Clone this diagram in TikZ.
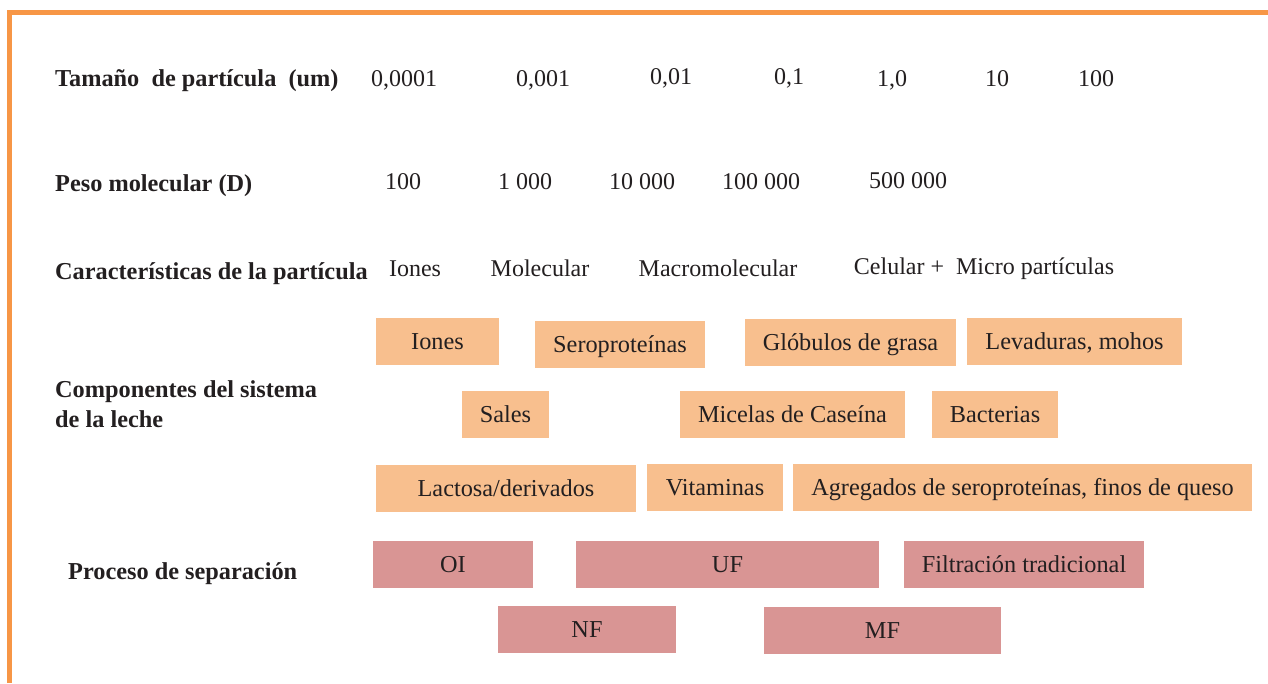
\documentclass[tikz,border=0pt]{standalone}
\usepackage{fontspec}
\setmainfont{Liberation Serif}
\begin{document}
\begin{tikzpicture}[x=1pt,y=-1pt,
  txt/.style={text=ink,inner sep=0pt,font=\fontsize{24}{28}\selectfont},
  head/.style={txt,anchor=base west,font=\fontsize{24.3}{28}\selectfont\bfseries},
  val/.style={txt,anchor=base},
  obox/.style={txt,rectangle,fill=orfill,minimum height=47pt,text height=17pt,text depth=0pt,font=\fontsize{24.3}{28}\selectfont},
  pbox/.style={txt,rectangle,fill=pkfill,minimum height=47pt,text height=17pt,text depth=0pt,font=\fontsize{24.3}{28}\selectfont}]
\definecolor{ink}{HTML}{231F20}
\definecolor{orline}{HTML}{F79646}
\definecolor{orfill}{HTML}{F8BF8E}
\definecolor{pkfill}{HTML}{D99594}
\useasboundingbox (0,0) rectangle (1268,683);
\fill[white] (0,0) rectangle (1268,683);
\draw[orline,line width=5pt] (1268,12.5) -- (9.2,12.5) -- (9.2,683);
% row 1
\node[head] (h1) at (55,86) {Tamaño\ \ de partícula\ \ (um)};
\node[val] (t1) at (404,86) {0,0001};
\node[val] (t2) at (543,86) {0,001};
\node[val] (t3) at (671,84) {0,01};
\node[val] (t4) at (789,84) {0,1};
\node[val] (t5) at (892,86) {1,0};
\node[val] (t6) at (997,86) {10};
\node[val] (t7) at (1096,86) {100};
% row 2
\node[head] (h2) at (55,191) {Peso molecular (D)};
\node[val] (p1) at (403,189) {100};
\node[val] (p2) at (525,189) {1 000};
\node[val] (p3) at (642,189) {10 000};
\node[val] (p4) at (761,189) {100 000};
\node[val] (p5) at (908,188) {500 000};
% row 3
\node[head] (h3) at (55,279) {Características de la partícula};
\node[val] (c1) at (415,276) {Iones};
\node[val] (c2) at (540,276) {Molecular};
\node[val] (c3) at (718,276) {Macromolecular};
\node[val] (c4) at (984,274) {Celular +\ \ Micro partículas};
% components
\node[head] (h4) at (55,397) {Componentes del sistema};
\node[head] (h5) at (55,427) {de la leche};
\node[obox,minimum width=123pt] (b1) at (437.5,341) {Iones};
\node[obox,minimum width=170pt] (b2) at (620,344) {Seroproteínas};
\node[obox,minimum width=211pt] (b3) at (850.5,342) {Glóbulos de grasa};
\node[obox,minimum width=215pt] (b4) at (1074.5,341) {Levaduras, mohos};
\node[obox,minimum width=87pt] (b5) at (505.5,414) {Sales};
\node[obox,minimum width=225pt] (b6) at (792.5,414) {Micelas de Caseína};
\node[obox,minimum width=126pt] (b7) at (995,414) {Bacterias};
\node[obox,minimum width=260pt] (b8) at (506,488) {Lactosa/derivados};
\node[obox,minimum width=136pt] (b9) at (715,487) {Vitaminas};
\node[obox,minimum width=459pt] (b10) at (1022.5,487) {Agregados de seroproteínas, finos de queso};
% process
\node[head] (h6) at (68,579) {Proceso de separación};
\node[pbox,minimum width=160pt] (q1) at (453,564) {OI};
\node[pbox,minimum width=303pt] (q2) at (727.5,564) {UF};
\node[pbox,minimum width=240pt] (q3) at (1024,564) {Filtración tradicional};
\node[pbox,minimum width=178pt] (q4) at (587,629) {NF};
\node[pbox,minimum width=237pt] (q5) at (882.5,630) {MF};
\end{tikzpicture}
\end{document}
